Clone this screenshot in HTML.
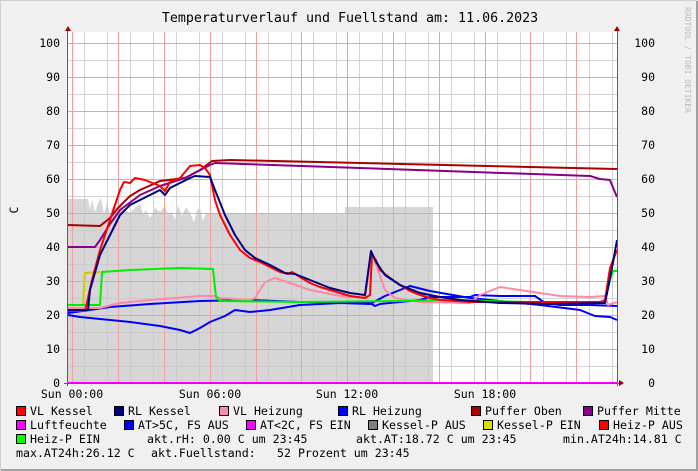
<!DOCTYPE html>
<html><head><meta charset="utf-8"><style>
html,body{margin:0;padding:0;background:#f0f0f0;}
svg{display:block;}
text{font-family:"DejaVu Sans Mono","Liberation Mono",monospace;}
</style></head><body>
<svg width="698" height="471" viewBox="0 0 698 471" xmlns="http://www.w3.org/2000/svg">
<rect x="0" y="0" width="698" height="471" fill="#f0f0f0"/>
<path d="M0.5 470.5V0.5H697.5" stroke="#d0d0d0" fill="none"/>
<path d="M1 470H697V1" stroke="#a0a0a0" stroke-width="2" fill="none"/>
<rect x="68" y="32" width="549" height="351" fill="#ffffff"/>
<!-- fuellstand area -->
<path d="M68 383V199H88L90 210 92 200 95 212 98 203 101 198 104 214 107 202 110 214 113 206 116 212 120 206 125 210 130 213 135 208 140 204 143 214 146 210 150 218 155 208 160 212 165 206 168 214 172 212 175 220 178 205 182 216 186 207 190 213 194 222 197 210 200 208 203 221 206 213 210 213H345V207H433V383Z" fill="#d6d6d6"/>
<!-- grid -->
<g stroke="#c8c8c8" stroke-opacity="0.8" stroke-width="1">
<path d="M84.5 32V383M107.5 32V383M130.5 32V383M153.5 32V383M176.5 32V383M199.5 32V383M222.5 32V383M245.5 32V383M268.5 32V383M291.5 32V383M313.5 32V383M336.5 32V383M359.5 32V383M382.5 32V383M405.5 32V383M428.5 32V383M451.5 32V383M474.5 32V383M497.5 32V383M520.5 32V383M543.5 32V383M566.5 32V383M589.5 32V383M612.5 32V383"/>
<path d="M68 366.5H617M68 332.5H617M68 298.5H617M68 264.5H617M68 230.5H617M68 196.5H617M68 162.5H617M68 128.5H617M68 94.5H617M68 60.5H617"/>
</g>
<g stroke="#f0a0a0" stroke-width="1">
<path d="M72.5 32V383M118.5 32V383M164.5 32V383M210.5 32V383M256.5 32V383M301.5 32V383M347.5 32V383M393.5 32V383M439.5 32V383M485.5 32V383M530.5 32V383M576.5 32V383"/>
<path d="M68 349.5H617M68 315.5H617M68 281.5H617M68 247.5H617M68 213.5H617M68 179.5H617M68 145.5H617M68 111.5H617M68 77.5H617M68 43.5H617"/>
</g>
<g fill="none" stroke-width="2" stroke-linejoin="round">
<!-- AT lower blue -->
<path stroke="#0000ff" d="M68 315L80 317 100 319 130 322 160 326 180 330 190 333 200 328 210 322 225 316 235 310 250 312 270 310 300 305 340 303 370 304 385 296 395 292 410 286 430 291 470 298 520 303 540 305 580 310 595 316 610 317 617 320"/>
<!-- RL Heizung -->
<path stroke="#0000ff" d="M68 313L90 310 110 307 150 304 200 301 250 300 300 302 350 302 370 303 375 306 380 304 420 300 430 297 470 297 475 295 500 296 535 296 545 303 560 305 590 305 617 306"/>
<!-- VL Heizung -->
<path stroke="#ff88aa" d="M68 308L100 308 120 303 150 300 200 296 215 296 220 298 250 300 255 298 265 282 275 278 290 283 310 290 340 296 365 298 372 253 378 270 385 290 395 298 420 302 470 303 480 295 500 287 520 290 560 296 590 297 605 296 608 305 617 302"/>
<!-- Kessel-P EIN yellow -->
<path stroke="#cccc00" d="M68 305L83 305 85 273 100 272"/>
<!-- Heiz-P EIN green -->
<path stroke="#00ee00" d="M68 305L100 305 102 272 130 270 180 268 213 269 216 297 220 301 300 302 400 301 450 300 530 302 605 302 610 280 613 271 617 271"/>
<!-- Puffer Oben -->
<path stroke="#aa0000" d="M68 225L100 226 110 218 118 208 130 196 140 190 160 181 185 178 200 170 212 161 230 160 617 169"/>
<!-- Puffer Mitte -->
<path stroke="#880088" d="M68 247L95 247 100 240 110 224 120 210 140 195 160 186 185 178 210 165 215 163 590 176 600 179 610 180 614 190 617 197"/>
<!-- VL Kessel -->
<path stroke="#ff0000" d="M68 311L85 311 92 280 100 250 110 220 120 190 124 182 130 183 135 178 145 180 155 184 160 186 165 191 170 182 180 178 190 166 200 165 205 168 210 175 215 200 220 215 230 235 240 250 250 258 260 262 270 267 280 272 288 274 292 272 300 277 310 283 320 287 330 290 340 293 350 296 365 298 370 295 372 255 376 260 380 270 390 278 400 285 410 291 420 295 430 298 440 300 470 302 600 302 605 300 610 268 617 250"/>
<!-- RL Kessel -->
<path stroke="#000080" d="M68 310L88 310 90 290 100 255 110 235 120 215 130 205 140 200 150 195 160 190 165 195 170 188 180 183 190 178 195 176 210 177 215 190 225 215 235 235 245 250 255 258 270 265 285 273 295 274 310 280 330 288 350 293 365 295 371 251 376 262 385 275 400 285 420 293 440 297 460 300 500 303 550 304 605 303 612 268 617 240"/>
</g>
<!-- Luftfeuchte -->
<path d="M68 383H617" stroke="#ff00ff" stroke-width="2"/>
<!-- axes -->
<path d="M67.5 30V386M617.5 30V386" stroke="#606060" stroke-width="1"/>
<path d="M64 383.5H622" stroke="#606060"/>
<path d="M65 31L68 26 71 31Z M614 31L617 26 620 31Z M619 380L624 383 619 386Z" fill="#990000"/>
<!-- y tick labels -->
<g font-size="11.5" fill="#000" text-anchor="end">
<text x="60" y="387">0</text><text x="60" y="353">10</text><text x="60" y="319">20</text><text x="60" y="285">30</text><text x="60" y="251">40</text><text x="60" y="217">50</text><text x="60" y="183">60</text><text x="60" y="149">70</text><text x="60" y="115">80</text><text x="60" y="81">90</text><text x="60" y="47">100</text>
<text x="655" y="387">0</text><text x="655" y="353">10</text><text x="655" y="319">20</text><text x="655" y="285">30</text><text x="655" y="251">40</text><text x="655" y="217">50</text><text x="655" y="183">60</text><text x="655" y="149">70</text><text x="655" y="115">80</text><text x="655" y="81">90</text><text x="655" y="47">100</text>
</g>
<g font-size="11.5" fill="#000" text-anchor="middle">
<text x="72" y="398">Sun 00:00</text><text x="210" y="398">Sun 06:00</text><text x="347" y="398">Sun 12:00</text><text x="485" y="398">Sun 18:00</text>
</g>
<text x="0" y="0" font-size="11.5" transform="translate(18,210) rotate(-90)" text-anchor="middle">C</text>
<text x="350" y="22" font-size="13.3" text-anchor="middle">Temperaturverlauf und Fuellstand am: 11.06.2023</text>
<text x="0" y="0" font-size="8" fill="#bbbbbb" transform="translate(685,7) rotate(90)">RRDTOOL / TOBI OETIKER</text>
<!-- legend -->
<g stroke="#000" stroke-width="1">
<rect x="16.5" y="406.5" width="9" height="9" fill="#ff0000"/>
<rect x="114.5" y="406.5" width="9" height="9" fill="#000080"/>
<rect x="219.5" y="406.5" width="9" height="9" fill="#ff88aa"/>
<rect x="338.5" y="406.5" width="9" height="9" fill="#0000ff"/>
<rect x="471.5" y="406.5" width="9" height="9" fill="#aa0000"/>
<rect x="583.5" y="406.5" width="9" height="9" fill="#880088"/>
<rect x="16.5" y="420.5" width="9" height="9" fill="#ff00ff"/>
<rect x="124.5" y="420.5" width="9" height="9" fill="#0000ff"/>
<rect x="246.5" y="420.5" width="9" height="9" fill="#ff00ff"/>
<rect x="368.5" y="420.5" width="9" height="9" fill="#808080"/>
<rect x="483.5" y="420.5" width="9" height="9" fill="#dddd00"/>
<rect x="599.5" y="420.5" width="9" height="9" fill="#ff0000"/>
<rect x="16.5" y="434.5" width="9" height="9" fill="#00ff00"/>
</g>
<g font-size="11.6" fill="#000">
<text x="30" y="415">VL Kessel</text>
<text x="128" y="415">RL Kessel</text>
<text x="233" y="415">VL Heizung</text>
<text x="352" y="415">RL Heizung</text>
<text x="485" y="415">Puffer Oben</text>
<text x="597" y="415">Puffer Mitte</text>
<text x="30" y="429">Luftfeuchte</text>
<text x="138" y="429">AT&gt;5C, FS AUS</text>
<text x="260" y="429">AT&lt;2C, FS EIN</text>
<text x="382" y="429">Kessel-P AUS</text>
<text x="497" y="429">Kessel-P EIN</text>
<text x="613" y="429">Heiz-P AUS</text>
<text x="30" y="443">Heiz-P EIN</text>
<text x="147" y="443">akt.rH: 0.00 C um 23:45</text>
<text x="356" y="443">akt.AT:18.72 C um 23:45</text>
<text x="563" y="443">min.AT24h:14.81 C</text>
<text x="16" y="457">max.AT24h:26.12 C</text>
<text x="151" y="457">akt.Fuellstand:</text>
<text x="277" y="457">52 Prozent um 23:45</text>
</g>
</svg>
</body></html>
